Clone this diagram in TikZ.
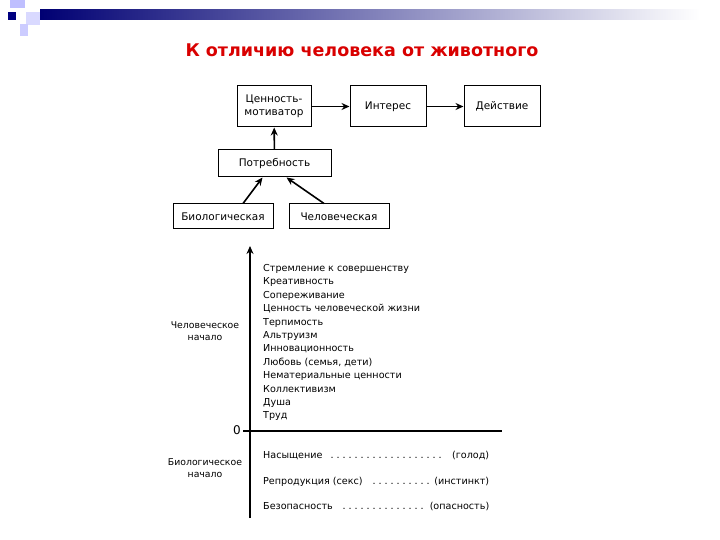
\documentclass[tikz,border=0pt]{standalone}
\usepackage{fontspec}
\setmainfont{DejaVu Sans}
\usetikzlibrary{arrows.meta}
\newcommand{\dl}{\leaders\hbox to 6pt{\hss.\hss}\hfill}
\begin{document}
\begin{tikzpicture}[x=1pt,y=-1pt,
 bx/.style={draw,line width=1pt,minimum height=27pt,font=\fontsize{10.5}{13}\selectfont,align=center,inner sep=1pt},
 ar/.style={-{Stealth[length=8pt,width=7pt]},line width=1.6pt},
 it/.style={anchor=base west,font=\fontsize{9.6}{11}\selectfont,inner sep=0pt},
 lb/.style={font=\fontsize{9.3}{12}\selectfont,align=center,inner sep=0pt}]
\useasboundingbox (0,0) rectangle (720,540);
\fill[white] (0,0) rectangle (720,540);
\shade[left color=blue!45!black,right color=white] (40,10) rectangle (700,20);
\fill[blue!25!white] (10,0) rectangle (25,8);
\fill[blue!15!white] (26,12) rectangle (40,25);
\fill[blue!20!white] (20,24) rectangle (28,36);
\fill[blue!50!black] (8,12) rectangle (16,20);
\node[text=red!85!black,font=\fontsize{17.5}{21}\bfseries\selectfont] (t) at (362,50) {К отличию человека от животного};
\node[bx,minimum width=74pt,minimum height=41pt] (cm) at (274,106.5) {Ценность-\\мотиватор};
\node[bx,minimum width=76pt,minimum height=41pt] (in) at (388,106.5) {Интерес};
\node[bx,minimum width=76pt,minimum height=41pt] (de) at (502,106.5) {Действие};
\node[bx,minimum width=113pt] (po) at (274.5,163.5) {Потребность};
\node[bx,minimum width=100pt,minimum height=25pt] (bi) at (223,216.5) {Биологическая};
\node[bx,minimum width=100pt,minimum height=25pt] (ch) at (339,216.5) {Человеческая};
\draw[ar] (cm) -- (in);
\draw[ar] (in) -- (de);
\draw[ar] (po) -- (cm);
\draw[ar] (bi.north)++(20,0) -- ([xshift=-12pt]po.south);
\draw[ar] (ch.north)++(-15,0) -- ([xshift=12pt]po.south);
\coordinate (ab) at (250,518);
\coordinate (at) at (250,246);
\coordinate (hl) at (243,431);
\coordinate (hr) at (502,431);
\draw[ar] (ab) -- (at);
\draw[line width=1.3pt] (hl) -- (hr);
\node[lb] (zero) at (237,430) {\fontsize{12}{13}\selectfont 0};
\node[lb] (hn) at (205,331) {Человеческое\\начало};
\node[lb] (bn) at (205,468) {Биологическое\\начало};
\foreach \t [count=\i from 0] in {Стремление к совершенству,Креативность,Сопереживание,Ценность человеческой жизни,Терпимость,Альтруизм,Инновационность,{Любовь (семья, дети)},Нематериальные ценности,Коллективизм,Душа,Труд}
  \node[it] (i\i) at (263,271.5+13.4*\i) {\t};
\node[it] (b1) at (263,458.5) {\hbox to 226pt{Насыщение\ \dl\ (голод)}};
\node[it] (b2) at (263,484.5) {\hbox to 226pt{Репродукция (секс)\ \dl\ (инстинкт)}};
\node[it] (b3) at (263,509.5) {\hbox to 226pt{Безопасность\ \dl\ (опасность)}};
\end{tikzpicture}
\end{document}
